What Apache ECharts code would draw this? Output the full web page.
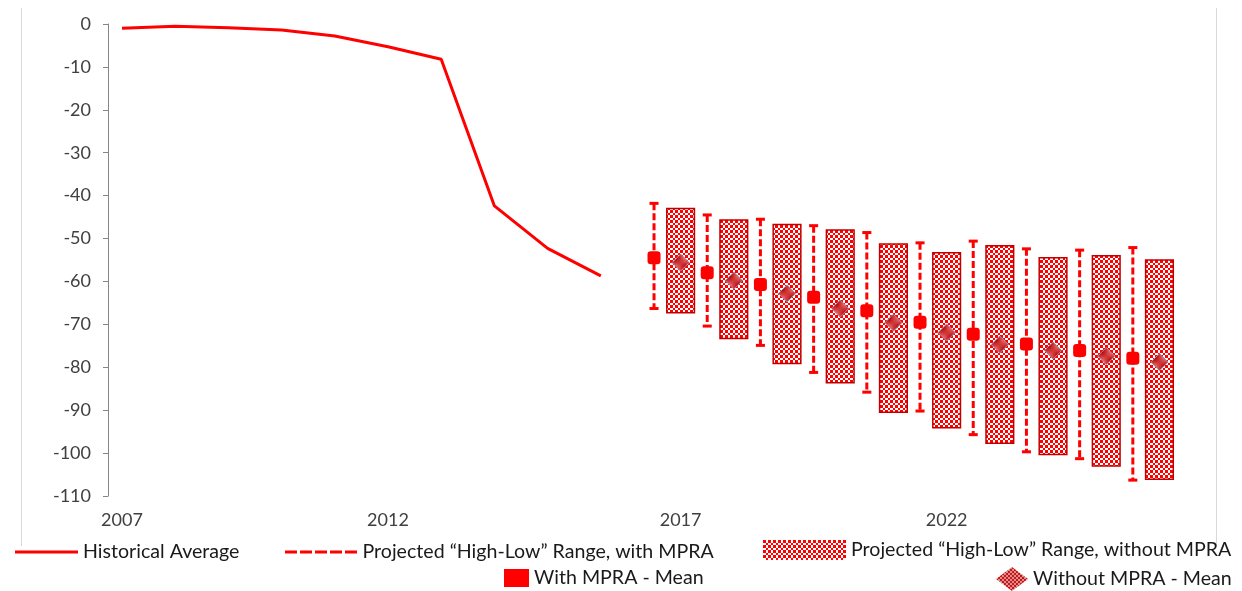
<!DOCTYPE html>
<html>
<head>
<meta charset="utf-8">
<script src="https://cdn.jsdelivr.net/npm/echarts@6/dist/echarts.min.js"></script>
<style>
  html, body { margin: 0; padding: 0; background: #fff; }
  #chart { width: 1242px; height: 591px; }
</style>
</head>
<body>
<div id="chart"></div>
<script>
// historical series
const histYears = [2007, 2008, 2009, 2010, 2011, 2012, 2013, 2014, 2015, 2016];
const histValues = [-1.0, -0.5, -0.9, -1.4, -2.8, -5.3, -8.2, -42.4, -52.3, -58.7];

// projections
const projYears = [2017, 2018, 2019, 2020, 2021, 2022, 2023, 2024, 2025, 2026];
const withHigh = [-41.8, -44.5, -45.5, -47.0, -48.6, -51.0, -50.6, -52.4, -52.7, -52.1];
const withLow = [-66.3, -70.4, -74.9, -81.2, -85.8, -90.2, -95.7, -99.7, -101.3, -106.3];
const withMean = [-54.5, -58.0, -60.7, -63.7, -66.8, -69.5, -72.3, -74.6, -76.1, -77.9];
const withoutHigh = [-43.0, -45.7, -46.7, -48.0, -51.3, -53.3, -51.7, -54.5, -54.0, -55.0];
const withoutLow = [-67.3, -73.3, -79.1, -83.6, -90.5, -94.1, -97.7, -100.3, -103.0, -106.1];
const withoutMean = [-55.6, -59.8, -62.8, -66.3, -69.6, -71.9, -74.7, -76.1, -77.4, -78.8];

// x axis tick labels
const xTickValues = [2007, 2012, 2017.5, 2022.5];
const xTickLabels = ['2007', '2012', '2017', '2022'];

const names = [
  'Historical Average',
  'Projected \u201CHigh-Low\u201D Range, with MPRA',
  'Projected \u201CHigh-Low\u201D Range, without MPRA',
  'With MPRA - Mean',
  'Without MPRA - Mean'
];

const RED = '#ff0000';
const BOX_SHIFT = 0.5;   // boxes sit half a year right of the with-MPRA bars
const BOX_W = 0.52;
const CAP_W = 0.17;
const FONT = 'Lato';

// small tiled canvas used as a fill
function makePattern(size, cell, c1, c2) {
  const cv = document.createElement('canvas');
  cv.width = size; cv.height = size;
  const ctx = cv.getContext('2d');
  ctx.fillStyle = c2;
  ctx.fillRect(0, 0, size, size);
  ctx.fillStyle = c1;
  ctx.fillRect(0, 0, cell, cell);
  ctx.fillRect(cell, cell, size - cell, size - cell);
  return { image: cv, repeat: 'repeat' };
}

const checker = makePattern(5, 3, RED, '#ffffff');
const diamondFill = makePattern(4, 2, '#b00000', '#f07070');
const diamondLegend = makePattern(4, 2, RED, '#a6a6a6');

const chart = echarts.init(document.getElementById('chart'));

const legendText = { fontFamily: FONT, fontSize: 19.6, color: '#1a1a1a' };
function legendAt(left, top, w, h, item) {
  return {
    left: left, top: top, padding: 0, itemWidth: w, itemHeight: h,
    selectedMode: false, textStyle: legendText, data: [item]
  };
}

chart.setOption({
  animation: false,
  backgroundColor: '#fff',
  grid: { left: 108, right: 40, top: 24, bottom: 95 },
  xAxis: {
    type: 'value',
    min: 2006.737,
    max: 2027.3,
    axisLine: { show: false },
    axisTick: { show: false },
    splitLine: { show: false },
    axisLabel: {
      customValues: xTickValues,
      margin: 15,
      fontFamily: FONT,
      fontSize: 18,
      color: '#404040',
      formatter: function (v) {
        for (let i = 0; i < xTickValues.length; i++) {
          if (Math.abs(xTickValues[i] - v) < 1e-6) return xTickLabels[i];
        }
        return '';
      }
    }
  },
  yAxis: {
    type: 'value',
    min: -110,
    max: 0,
    interval: 10,
    axisLine: { show: true, lineStyle: { color: '#868686', width: 1 } },
    axisTick: { show: true, length: 5, lineStyle: { color: '#868686' } },
    splitLine: { show: false },
    axisLabel: { margin: 17, fontFamily: FONT, fontSize: 18, color: '#404040' }
  },
  legend: [
    legendAt(15, 542, 63, 3, { name: names[0], icon: 'path://M0 0H63V3H0Z', itemStyle: { color: RED } }),
    legendAt(285, 542, 73, 3, {
      name: names[1],
      icon: 'path://M0 0H12V3H0Z M15 0H27V3H15Z M30 0H42V3H30Z M45 0H57V3H45Z M60 0H72V3H60Z',
      itemStyle: { color: RED }
    }),
    legendAt(763, 540, 83, 20, { name: names[2], icon: 'rect', itemStyle: { color: checker, borderWidth: 0 } }),
    legendAt(504, 568, 25, 18, { name: names[3], icon: 'rect', itemStyle: { color: RED } }),
    legendAt(996, 567, 32, 24, { name: names[4], icon: 'diamond', itemStyle: { color: diamondLegend, borderWidth: 0 } })
  ],
  graphic: [
    { type: 'line', shape: { x1: 21.5, y1: 8, x2: 21.5, y2: 546 }, style: { stroke: '#d9d9d9', lineWidth: 1 } },
    { type: 'line', shape: { x1: 1216.5, y1: 8, x2: 1216.5, y2: 546 }, style: { stroke: '#d9d9d9', lineWidth: 1 } }
  ],
  series: [
    {
      name: names[0],
      type: 'line',
      data: histYears.map((y, i) => [y, histValues[i]]),
      symbol: 'none',
      lineStyle: { color: RED, width: 3 },
      itemStyle: { color: RED },
      z: 3
    },
    {
      name: names[1],
      type: 'custom',
      data: projYears.map((y, i) => [y, withHigh[i], withLow[i]]),
      encode: { x: 0, y: [1, 2] },
      itemStyle: { color: RED },
      renderItem: function (params, api) {
        const x = api.value(0);
        const hi = api.coord([x, api.value(1)]);
        const lo = api.coord([x, api.value(2)]);
        const cw = api.size([CAP_W, 0])[0];
        return {
          type: 'group',
          children: [
            { type: 'line', shape: { x1: hi[0], y1: hi[1], x2: lo[0], y2: lo[1] },
              style: { stroke: RED, lineWidth: 3, lineDash: [7, 3] } },
            { type: 'line', shape: { x1: hi[0] - cw / 2, y1: hi[1], x2: hi[0] + cw / 2, y2: hi[1] },
              style: { stroke: RED, lineWidth: 3 } },
            { type: 'line', shape: { x1: lo[0] - cw / 2, y1: lo[1], x2: lo[0] + cw / 2, y2: lo[1] },
              style: { stroke: RED, lineWidth: 3 } }
          ]
        };
      },
      z: 2
    },
    {
      name: names[2],
      type: 'custom',
      data: projYears.map((y, i) => [y + BOX_SHIFT, withoutHigh[i], withoutLow[i]]),
      encode: { x: 0, y: [1, 2] },
      itemStyle: { color: checker },
      renderItem: function (params, api) {
        const x = api.value(0);
        const hi = api.coord([x, api.value(1)]);
        const lo = api.coord([x, api.value(2)]);
        const w = api.size([BOX_W, 0])[0];
        return {
          type: 'rect',
          shape: { x: hi[0] - w / 2, y: hi[1], width: w, height: lo[1] - hi[1] },
          style: { fill: checker, stroke: '#c00000', lineWidth: 1.5 }
        };
      },
      z: 2
    },
    {
      name: names[3],
      type: 'scatter',
      data: projYears.map((y, i) => [y, withMean[i]]),
      symbol: 'roundRect',
      symbolSize: 13,
      itemStyle: { color: RED, opacity: 1 },
      z: 4
    },
    {
      name: names[4],
      type: 'scatter',
      data: projYears.map((y, i) => [y + BOX_SHIFT, withoutMean[i]]),
      symbol: 'diamond',
      symbolSize: 17,
      itemStyle: { color: diamondFill, borderColor: '#8e8eb4', borderWidth: 1, opacity: 1 },
      z: 4
    }
  ]
});
</script>
</body>
</html>
